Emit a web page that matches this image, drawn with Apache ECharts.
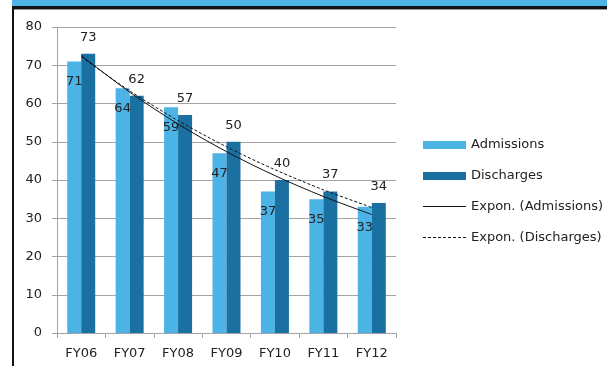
<!DOCTYPE html>
<html>
<head>
<meta charset="utf-8">
<script src="https://cdn.jsdelivr.net/npm/echarts@6/dist/echarts.min.js"></script>
<style>
  html, body { margin: 0; padding: 0; background: #fff; }
  #chart { width: 607px; height: 366px; }
</style>
</head>
<body>
<div id="chart"></div>
<script>
const categories = ['FY06', 'FY07', 'FY08', 'FY09', 'FY10', 'FY11', 'FY12'];
const admissions = [71, 64, 59, 47, 37, 35, 33];
const discharges = [73, 62, 57, 50, 40, 37, 34];
const yTicks = { min: 0, max: 80, interval: 10 };

// exponential trendline (least squares on ln y), like the spreadsheet's "Expon." trend
function expTrend(values) {
    const n = values.length;
    const xs = values.map((v, i) => i + 1);
    const ls = values.map(v => Math.log(v));
    const mx = xs.reduce((a, b) => a + b, 0) / n;
    const ml = ls.reduce((a, b) => a + b, 0) / n;
    let num = 0, den = 0;
    xs.forEach((x, i) => { num += (x - mx) * (ls[i] - ml); den += (x - mx) * (x - mx); });
    const b = num / den;
    const a = ml - b * mx;
    return xs.map(x => +Math.exp(a + b * x).toFixed(2));
}

const font = 'DejaVu Sans';
const gridColor = '#a3a3a3';
// thin line icons for the legend (the moveTos keep the 8px box so the stroke stays 1px)
const solidIcon = 'path://M0,0 M0,8 M0,3 H43 V4 H0 Z';
let dashPath = 'path://M0,0 M0,8';
for (let x = 0; x < 43; x += 5) dashPath += ' M' + x + ',3 H' + Math.min(x + 3, 43) + ' V4 H' + x + ' Z';
const dashIcon = dashPath;

const mychart = echarts.init(document.getElementById('chart'));
const option = {
    animation: false,
    textStyle: { fontFamily: font },
    graphic: [
        // header strip and frame of the cropped slide
        { type: 'rect', shape: { x: 12, y: 0, width: 600, height: 6 }, style: { fill: '#4bb3e5' } },
        { type: 'rect', shape: { x: 12, y: 6, width: 600, height: 3 }, style: { fill: '#111' } },
        { type: 'rect', shape: { x: 12, y: 9, width: 600, height: 1 }, style: { fill: '#999' } },
        { type: 'rect', shape: { x: 12, y: 6, width: 2, height: 370 }, style: { fill: '#111' } }
    ],
    grid: {
        left: 57,
        right: 211,
        top: 27,
        bottom: 33
    },
    legend: {
        orient: 'vertical',
        left: 423,
        top: 137,
        padding: 0,
        itemWidth: 43,
        itemHeight: 8,
        itemGap: 15,
        textStyle: { fontFamily: font, fontSize: 13, color: '#222', lineHeight: 16 },
        data: [
            { name: 'Admissions', icon: 'rect' },
            { name: 'Discharges', icon: 'rect' },
            { name: 'Expon. (Admissions)', icon: solidIcon },
            { name: 'Expon. (Discharges)', icon: dashIcon }
        ]
    },
    xAxis: {
        type: 'category',
        data: categories,
        axisLine: { show: true, lineStyle: { color: gridColor, width: 1 } },
        axisTick: { show: true, length: 5, lineStyle: { color: gridColor } },
        axisLabel: { color: '#222', fontSize: 13, margin: 14, fontFamily: font }
    },
    yAxis: {
        type: 'value',
        min: yTicks.min,
        max: yTicks.max,
        interval: yTicks.interval,
        axisLine: { show: true, lineStyle: { color: gridColor, width: 1 } },
        axisTick: { show: true, length: 5, lineStyle: { color: gridColor } },
        splitLine: { show: true, lineStyle: { color: gridColor, width: 1 } },
        axisLabel: { color: '#222', fontSize: 13, margin: 15, fontFamily: font }
    },
    series: [
        {
            name: 'Admissions',
            type: 'bar',
            barWidth: 14,
            barGap: '0%',
            itemStyle: { color: '#4cb3e6' },
            label: {
                show: true,
                position: 'insideTop',
                distance: 14,
                color: '#222',
                fontSize: 13,
                fontFamily: font
            },
            data: admissions
        },
        {
            name: 'Discharges',
            type: 'bar',
            barWidth: 14,
            itemStyle: { color: '#1a70a0' },
            label: {
                show: true,
                position: 'top',
                distance: 10,
                color: '#222',
                fontSize: 13,
                fontFamily: font
            },
            data: discharges
        },
        {
            name: 'Expon. (Admissions)',
            type: 'line',
            symbol: 'none',
            smooth: 0.3,
            z: 5,
            itemStyle: { color: '#111' },
            lineStyle: { color: '#111', width: 1 },
            data: expTrend(admissions)
        },
        {
            name: 'Expon. (Discharges)',
            type: 'line',
            symbol: 'none',
            smooth: 0.3,
            z: 5,
            itemStyle: { color: '#111' },
            lineStyle: { color: '#111', width: 1, type: [3, 2] },
            data: expTrend(discharges)
        }
    ]
};
mychart.setOption(option);
window.addEventListener('resize', () => {
    mychart.resize();
});
</script>
</body>
</html>
